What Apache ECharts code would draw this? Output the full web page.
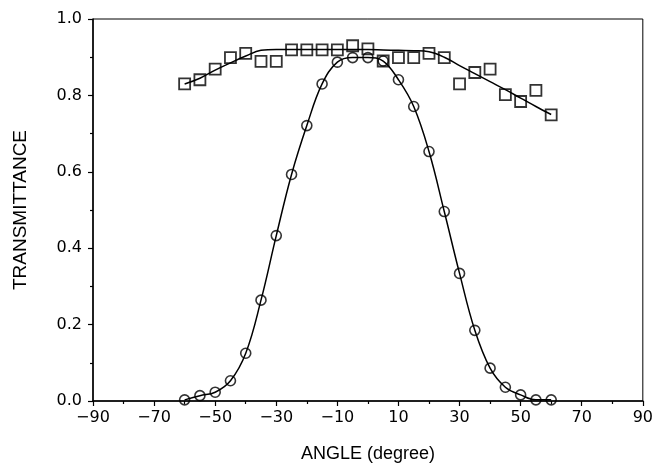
<!DOCTYPE html>
<html><head><meta charset="utf-8">
<script src="https://cdn.jsdelivr.net/npm/echarts@6/dist/echarts.min.js"></script>
<style>html,body{margin:0;padding:0;background:#fff}#c{width:656px;height:468px}</style>
</head><body><div id="c"></div>
<script>
const angles = [-60,-55,-50,-45,-40,-35,-30,-25,-20,-15,-10,-5,0,5,10,15,20,25,30,35,40,45,50,55,60];
const squareValues = [0.83,0.841,0.869,0.899,0.910,0.889,0.889,0.919,0.919,0.919,0.919,0.930,0.922,0.890,0.899,0.899,0.910,0.899,0.830,0.860,0.869,0.802,0.784,0.813,0.749];
const squareFit = [0.83,0.845,0.866,0.885,0.903,0.918,0.920,0.920,0.920,0.920,0.920,0.920,0.920,0.919,0.918,0.917,0.914,0.900,0.878,0.857,0.836,0.815,0.793,0.771,0.75];
const circleValues = [0.003,0.014,0.023,0.053,0.125,0.264,0.433,0.593,0.721,0.830,0.887,0.899,0.899,0.890,0.841,0.771,0.653,0.496,0.334,0.185,0.086,0.036,0.016,0.003,0.003];
const xTicks = [-90,-70,-50,-30,-10,10,30,50,70,90];
const yTicks = [0,0.2,0.4,0.6,0.8,1.0];

const pair = (xs, ys) => xs.map((x,i)=>[x, ys[i]]);
const font = 'Liberation Sans';
const tickFont = 'DejaVu Sans';
const chart = echarts.init(document.getElementById('c'));
chart.setOption({
  animation:false,
  backgroundColor:'#fff',
  grid:{left:93,right:12,top:19,bottom:66,show:true,borderColor:'#000',borderWidth:1,backgroundColor:'transparent'},
  xAxis:{type:'value',min:xTicks[0],max:xTicks[xTicks.length-1],interval:20,
    name:'ANGLE (degree)',nameLocation:'middle',nameGap:44,
    nameTextStyle:{fontFamily:font,fontSize:18,color:'#000'},
    axisLine:{show:true,onZero:false,lineStyle:{color:'#000',width:1.5}},
    axisTick:{show:true,length:5,lineStyle:{color:'#000',width:1.2}},
    minorTick:{show:true,splitNumber:2,length:3,lineStyle:{color:'#000',width:1.2}},
    splitLine:{show:false},
    axisLabel:{fontFamily:tickFont,fontSize:16,color:'#000',margin:9,
      formatter:v=>String(v).replace('-','\u2212')}},
  yAxis:{type:'value',min:yTicks[0],max:yTicks[yTicks.length-1],interval:0.2,
    name:'TRANSMITTANCE',nameLocation:'middle',nameGap:63,
    nameTextStyle:{fontFamily:font,fontSize:19,color:'#000'},
    axisLine:{show:true,onZero:false,lineStyle:{color:'#000',width:1.5}},
    axisTick:{show:true,length:5,lineStyle:{color:'#000',width:1.2}},
    minorTick:{show:true,splitNumber:2,length:3,lineStyle:{color:'#000',width:1.2}},
    splitLine:{show:false},
    axisLabel:{fontFamily:tickFont,fontSize:16,color:'#000',margin:11,formatter:v=>v.toFixed(1)}},
  series:[
    {type:'line',data:pair(angles,squareFit),smooth:0.4,showSymbol:false,symbol:'none',
      lineStyle:{color:'#000',width:1.5},z:2},
    {type:'line',data:pair(angles,circleValues),smooth:0.4,showSymbol:false,symbol:'none',
      lineStyle:{color:'#000',width:1.5},z:2},
    {type:'scatter',data:pair(angles,squareValues),symbol:'rect',symbolSize:11,
      itemStyle:{color:'rgba(255,255,255,0)',borderColor:'#000',borderWidth:1.8},z:3},
    {type:'scatter',data:pair(angles,circleValues),symbol:'circle',symbolSize:10,
      itemStyle:{color:'rgba(255,255,255,0)',borderColor:'#000',borderWidth:1.6},z:3}
  ]
});
</script></body></html>
